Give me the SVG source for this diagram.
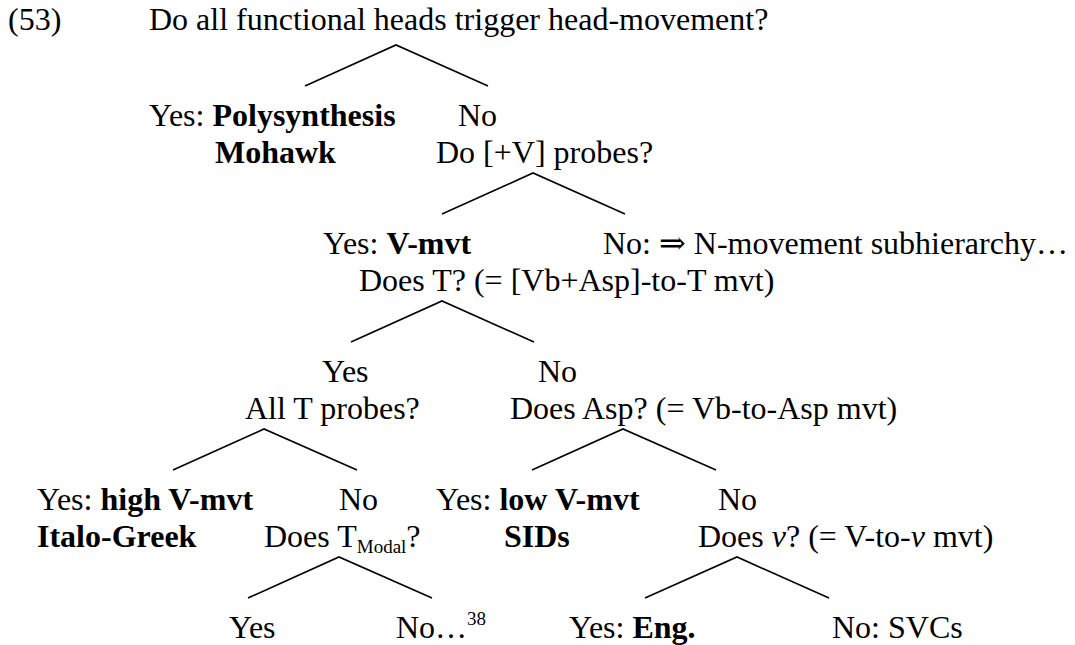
<svg xmlns="http://www.w3.org/2000/svg" width="1075" height="645" viewBox="0 0 1075 645">
<style>
text{font-family:"Liberation Serif","Times New Roman","DejaVu Serif",serif;font-size:32px;fill:#000}
.b{font-weight:bold}
.i{font-style:italic}
.sub{font-size:19px}
.sup{font-size:19px}
.edge{stroke:#000;stroke-width:1.6;fill:none;stroke-linecap:butt}
</style>
<rect width="1075" height="645" fill="#fff"/>
<g id="connectors">
<polyline class="edge" points="305,86 396,45 488,86"/>
<polyline class="edge" points="442,214 533,173 625,214"/>
<polyline class="edge" points="351,342 442,301 534,342"/>
<polyline class="edge" points="173,470 264,429 357,470"/>
<polyline class="edge" points="532,470 623,429 716,470"/>
<polyline class="edge" points="248,598 339,557 432,598"/>
<polyline class="edge" points="645,598 737,557 829,598"/>
</g>
<g id="label-53"><text x="8" y="30">(53)</text></g>
<g id="n-root"><text x="149" y="30">Do all functional heads trigger head-movement?</text></g>
<g id="n-polysynthesis"><text x="149" y="126">Yes: <tspan class="b">Polysynthesis</tspan></text><text class="b" x="215" y="163">Mohawk</text></g>
<g id="n-v-probes"><text x="458" y="126">No</text><text x="436" y="163">Do [+V] probes?</text></g>
<g id="n-vmvt"><text x="323" y="254">Yes: <tspan class="b">V-mvt</tspan></text><text x="359" y="291">Does T? (= [Vb+Asp]-to-T mvt)</text></g>
<g id="n-nmvt"><text x="603" y="254">No: ⇒ N-movement subhierarchy…</text></g>
<g id="n-t-yes"><text x="322" y="382">Yes</text><text x="245" y="419">All T probes?</text></g>
<g id="n-t-no"><text x="538" y="382">No</text><text x="510" y="419">Does Asp? (= Vb-to-Asp mvt)</text></g>
<g id="n-high"><text x="37" y="510">Yes: <tspan class="b">high V-mvt</tspan></text><text class="b" x="37" y="547">Italo-Greek</text></g>
<g id="n-tmodal"><text x="339" y="510">No</text><text x="264" y="547">Does T<tspan class="sub" dy="6">Modal</tspan><tspan dy="-6">?</tspan></text></g>
<g id="n-low"><text x="436" y="510">Yes: <tspan class="b">low V-mvt</tspan></text><text class="b" x="504" y="547">SIDs</text></g>
<g id="n-v"><text x="718" y="510">No</text><text x="698" y="547">Does <tspan class="i">v</tspan>? (= V-to-<tspan class="i">v</tspan> mvt)</text></g>
<g id="n-tmodal-yes"><text x="229" y="638">Yes</text></g>
<g id="n-tmodal-no"><text x="396" y="638">No…<tspan class="sup" dy="-13">38</tspan></text></g>
<g id="n-eng"><text x="569" y="638">Yes: <tspan class="b">Eng.</tspan></text></g>
<g id="n-svcs"><text x="832" y="638">No: SVCs</text></g>
</svg>
